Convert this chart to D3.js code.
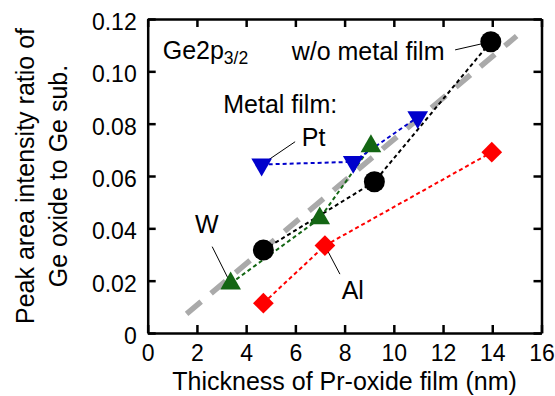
<!DOCTYPE html>
<html>
<head>
<meta charset="utf-8">
<script src="https://cdn.jsdelivr.net/npm/d3@7"></script>
<style>
  body { margin: 0; background: #fff; }
  text { font-family: "Liberation Sans", Arial, sans-serif; fill: #000; }
</style>
</head>
<body>
<div id="vis"></div>
<script>
// Data
const X_TICKS = [0, 2, 4, 6, 8, 10, 12, 14, 16];
const Y_TICKS = [0, 0.02, 0.04, 0.06, 0.08, 0.10, 0.12];
const Y_TICK_LABELS = ["0", "0.02", "0.04", "0.06", "0.08", "0.10", "0.12"];

// w/o metal film (black circles)
const NONE_X = [4.70, 9.21, 13.94];
const NONE_Y = [0.0317, 0.0578, 0.1113];
// W (green up triangles)
const W_X = [3.37, 6.99, 9.07];
const W_Y = [0.0189, 0.0438, 0.0714];
// Pt (blue down triangles)
const PT_X = [4.63, 8.35, 10.97];
const PT_Y = [0.0644, 0.0654, 0.0825];
// Al (red diamonds)
const AL_X = [4.70, 7.20, 13.98];
const AL_Y = [0.0114, 0.0334, 0.0691];
// gray guide line end points
const FIT_X = [1.58, 14.99];
const FIT_Y = [0.0073, 0.1135];

// Set frame and margins
const FRAME_WIDTH = 555;
const FRAME_HEIGHT = 396;
const MARGINS = {left: 147.7, right: 13.5, top: 19, bottom: 63};
const VIS_WIDTH = FRAME_WIDTH - MARGINS.left - MARGINS.right;
const VIS_HEIGHT = FRAME_HEIGHT - MARGINS.top - MARGINS.bottom;
const FONT = '"Liberation Sans", Arial, sans-serif';

const FRAME = d3.select("#vis")
  .append("svg")
    .attr("width", FRAME_WIDTH)
    .attr("height", FRAME_HEIGHT);

const X_SCALE = d3.scaleLinear().domain([0, 16]).range([0, VIS_WIDTH]);
const Y_SCALE = d3.scaleLinear().domain([0, 0.12]).range([VIS_HEIGHT, 0]);

const G = FRAME.append("g")
  .attr("transform", "translate(" + MARGINS.left + "," + MARGINS.top + ")");

// zip helper
function pts(xs, ys) { return xs.map((x, i) => ({x: x, y: ys[i]})); }

// gray dashed guide line (bottom layer)
G.append("line")
  .attr("x1", X_SCALE(FIT_X[0])).attr("y1", Y_SCALE(FIT_Y[0]))
  .attr("x2", X_SCALE(FIT_X[1])).attr("y2", Y_SCALE(FIT_Y[1]))
  .attr("stroke", "#aaaaaa")
  .attr("stroke-width", 5.5)
  .attr("stroke-dasharray", "19,13");

const LINE = d3.line().x(d => X_SCALE(d.x)).y(d => Y_SCALE(d.y));

const SERIES = [
  {data: pts(AL_X, AL_Y), color: "#ff0000", sym: "diamond"},
  {data: pts(NONE_X, NONE_Y), color: "#000000", sym: "circle"},
  {data: pts(W_X, W_Y), color: "#146614", sym: "up"},
  {data: pts(PT_X, PT_Y), color: "#0000cc", sym: "down"}
];

// dashed connecting lines
SERIES.forEach(s => {
  G.append("path")
    .attr("d", LINE(s.data))
    .attr("fill", "none")
    .attr("stroke", s.color)
    .attr("stroke-width", 2)
    .attr("stroke-dasharray", "4,3");
});

// markers
SERIES.forEach(s => {
  const sel = G.append("g").selectAll("path")
    .data(s.data)
    .enter()
    .append("path")
      .attr("fill", s.color);
  if (s.sym === "circle") {
    sel.attr("d", d3.symbol(d3.symbolCircle, Math.PI * 10.5 * 10.5)())
       .attr("transform", d => "translate(" + X_SCALE(d.x) + "," + Y_SCALE(d.y) + ")");
  } else if (s.sym === "diamond") {
    sel.attr("d", d3.symbol(d3.symbolSquare, 215)())
       .attr("transform", d => "translate(" + X_SCALE(d.x) + "," + Y_SCALE(d.y) + ") rotate(45)");
  } else if (s.sym === "up") {
    sel.attr("d", d3.symbol(d3.symbolTriangle, 185)())
       .attr("transform", d => "translate(" + X_SCALE(d.x) + "," + Y_SCALE(d.y) + ")");
  } else {
    sel.attr("d", d3.symbol(d3.symbolTriangle, 185)())
       .attr("transform", d => "translate(" + X_SCALE(d.x) + "," + Y_SCALE(d.y) + ") rotate(180)");
  }
});

// Axes: inward ticks on all four sides
const TICK = 8;
G.append("g")
  .attr("transform", "translate(0," + VIS_HEIGHT + ")")
  .call(d3.axisBottom(X_SCALE).tickValues(X_TICKS).tickSize(-TICK).tickPadding(12).tickSizeOuter(0))
  .call(g => g.selectAll("text").style("font-size", "23px").style("font-family", FONT));
G.append("g")
  .call(d3.axisTop(X_SCALE).tickValues(X_TICKS).tickSize(-TICK).tickFormat("").tickSizeOuter(0));
G.append("g")
  .call(d3.axisLeft(Y_SCALE).tickValues(Y_TICKS).tickSize(-TICK).tickPadding(11).tickSizeOuter(0)
    .tickFormat((d, i) => Y_TICK_LABELS[i]))
  .call(g => g.selectAll("text").attr("dy", "0.45em").style("font-size", "23px").style("font-family", FONT));
G.append("g")
  .attr("transform", "translate(" + VIS_WIDTH + ",0)")
  .call(d3.axisRight(Y_SCALE).tickValues(Y_TICKS).tickSize(-TICK).tickFormat("").tickSizeOuter(0));

G.selectAll(".domain").attr("stroke", "#000").attr("stroke-width", 2.5);
G.selectAll(".tick line").attr("stroke", "#000").attr("stroke-width", 2.5);

// Axis titles
FRAME.append("text")
  .attr("x", MARGINS.left + VIS_WIDTH / 2)
  .attr("y", 390)
  .attr("text-anchor", "middle")
  .style("font-size", "25px")
  .text("Thickness of Pr-oxide film (nm)");

FRAME.append("text")
  .attr("transform", "translate(33.5," + (MARGINS.top + VIS_HEIGHT / 2) + ") rotate(-90)")
  .attr("text-anchor", "middle")
  .style("font-size", "25px")
  .text("Peak area intensity ratio of");
FRAME.append("text")
  .attr("transform", "translate(66.5," + (MARGINS.top + VIS_HEIGHT / 2) + ") rotate(-90)")
  .attr("text-anchor", "middle")
  .style("font-size", "25px")
  .text("Ge oxide to Ge sub.");

// Annotations (positions in data units)
const ge = G.append("text")
  .attr("x", X_SCALE(0.61)).attr("y", Y_SCALE(0.1047))
  .style("font-size", "25px");
ge.append("tspan").text("Ge2p");
ge.append("tspan").attr("dy", 5).style("font-size", "17.5px").text("3/2");

function label(txt, x, y) {
  G.append("text")
    .attr("x", X_SCALE(x)).attr("y", Y_SCALE(y))
    .style("font-size", "25px")
    .text(txt);
}
function leader(x1, y1, x2, y2) {
  G.insert("line", ":first-child")
    .attr("x1", X_SCALE(x1)).attr("y1", Y_SCALE(y1))
    .attr("x2", X_SCALE(x2)).attr("y2", Y_SCALE(y2))
    .attr("stroke", "#000")
    .attr("stroke-width", 1);
}

label("w/o metal film", 5.85, 0.1045);
leader(12.49, 0.1082, NONE_X[2], NONE_Y[2]);
label("Metal film:", 3.07, 0.084);
label("Pt", 6.26, 0.0715);
leader(5.99, 0.0731, PT_X[0], PT_Y[0]);
label("W", 1.92, 0.0381);
leader(2.62, 0.033, W_X[0], W_Y[0]);
label("Al", 7.88, 0.0129);
leader(7.81, 0.0225, AL_X[1], AL_Y[1]);
</script>
</body>
</html>
